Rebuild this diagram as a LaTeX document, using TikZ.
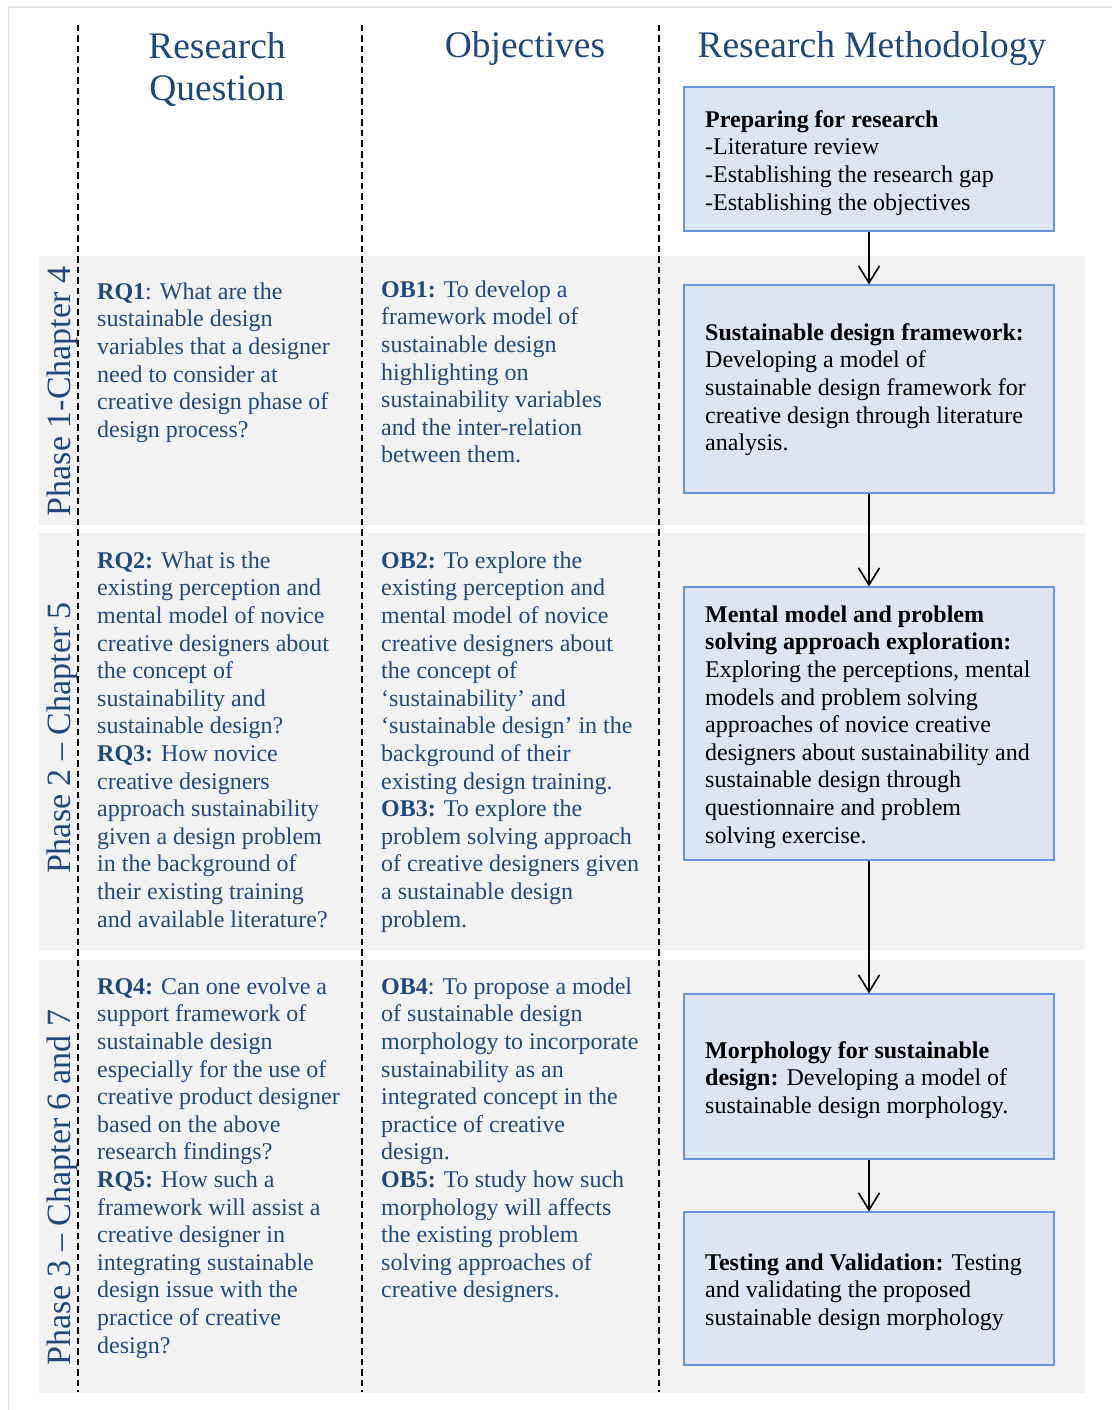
\documentclass[tikz,border=0pt]{standalone}
\usepackage{fontspec}
\setmainfont{Liberation Serif}
\usetikzlibrary{arrows.meta}
\definecolor{hdrblue}{RGB}{31,73,125}
\definecolor{bandgray}{RGB}{242,242,242}
\definecolor{boxfill}{RGB}{220,230,242}
\definecolor{boxline}{RGB}{100,150,222}
\definecolor{framegray}{RGB}{226,226,226}

\begin{document}
\begin{tikzpicture}[x=1pt,y=-1pt,
  divider/.style={draw=black, line width=2pt, dash pattern=on 6.5pt off 4pt},
  methbox/.style={draw=boxline, fill=boxfill, line width=1.2pt, rectangle,
    minimum width=370pt, inner sep=0pt},
  body/.style={anchor=north west, inner sep=0pt, align=left,
    font=\fontsize{24}{27.6}\selectfont},
  coltext/.style={body, text=hdrblue},
  boxtext/.style={body, text=black},
  heading/.style={text=hdrblue, inner sep=0pt, align=center,
    font=\fontsize{37.5}{42}\selectfont},
  phase/.style={text=hdrblue, inner sep=0pt, rotate=90, anchor=base,
    font=\fontsize{34}{40}\selectfont},
  flow/.style={-{Straight Barb[length=17pt,width=21pt]}, line width=1.6pt, draw=black}
]
\useasboundingbox (0,0) rectangle (1111,1410);
\fill[white] (0,0) rectangle (1111,1410);

% outer frame
\draw[framegray, line width=1.5pt] (8.5,1420) -- (8.5,7) -- (1120,7);

% phase bands
\fill[bandgray] (39,256) rectangle (1085,524.5);
\fill[bandgray] (39,533) rectangle (1085,950);
\fill[bandgray] (39,960) rectangle (1085,1392.5);

% column dividers
\draw[divider] (78,25) -- (78,1392);
\draw[divider] (362,25) -- (362,1392);
\draw[divider] (659,25) -- (659,1392);

% column headings
\node[heading, anchor=north] (hrq) at (217,28.6) {\strut Research\\Question};
\node[heading, anchor=base] (hob) at (525,58) {Objectives};
\node[heading, anchor=base] (hrm) at (872,58) {Research Methodology};

% phase labels
\node[phase] (p1) at (70.5,391.5) {Phase 1-Chapter 4};
\node[phase] (p2) at (70.5,738) {Phase 2 – Chapter 5};
\node[phase] (p3) at (70.5,1187.5) {Phase 3 – Chapter 6 and 7};

% methodology boxes
\node[methbox, minimum height=144pt] (m1) at (869,159) {};
\node[methbox, minimum height=208pt] (m2) at (869,389) {};
\node[methbox, minimum height=273pt] (m3) at (869,723.5) {};
\node[methbox, minimum height=165pt] (m4) at (869,1076.5) {};
\node[methbox, minimum height=153pt] (m5) at (869,1288.5) {};

\draw[flow] (m1) -- (m2);
\draw[flow] (m2) -- (m3);
\draw[flow] (m3) -- (m4);
\draw[flow] (m4) -- (m5);

% methodology texts
\node[boxtext] (t1) at (705,107.7) {\strut\textbf{Preparing for research}\\
-Literature review\\
-Establishing the research gap\\
-Establishing the objectives};
\node[boxtext] (t2) at (705,320.7) {\strut\textbf{Sustainable design framework:}\\
Developing a model of\\
sustainable design framework for\\
creative design through literature\\
analysis.};
\node[boxtext] (t3) at (705,602.7) {\strut\textbf{Mental model and problem}\\
\textbf{solving approach exploration:}\\
Exploring the perceptions, mental\\
models and problem solving\\
approaches of novice creative\\
designers about sustainability and\\
sustainable design through\\
questionnaire and problem\\
solving exercise.};
\node[boxtext] (t4) at (705,1038.7) {\strut\textbf{Morphology for sustainable}\\
\textbf{design:} Developing a model of\\
sustainable design morphology.};
\node[boxtext] (t5) at (705,1250.7) {\strut\textbf{Testing and Validation:} Testing\\
and validating the proposed\\
sustainable design morphology};

% research questions
\node[coltext] (rq1) at (97,279.7) {\strut\textbf{RQ1}: What are the\\
sustainable design\\
variables that a designer\\
need to consider at\\
creative design phase of\\
design process?};
\node[coltext] (rq2) at (97,548.7) {\strut\textbf{RQ2:} What is the\\
existing perception and\\
mental model of novice\\
creative designers about\\
the concept of\\
sustainability and\\
sustainable design?\\
\textbf{RQ3:} How novice\\
creative designers\\
approach sustainability\\
given a design problem\\
in the background of\\
their existing training\\
and available literature?};
\node[coltext] (rq4) at (97,974.7) {\strut\textbf{RQ4:} Can one evolve a\\
support framework of\\
sustainable design\\
especially for the use of\\
creative product designer\\
based on the above\\
research findings?\\
\textbf{RQ5:} How such a\\
framework will assist a\\
creative designer in\\
integrating sustainable\\
design issue with the\\
practice of creative\\
design?};

% objectives
\node[coltext] (ob1) at (381,277.7) {\strut\textbf{OB1:} To develop a\\
framework model of\\
sustainable design\\
highlighting on\\
sustainability variables\\
and the inter-relation\\
between them.};
\node[coltext] (ob2) at (381,548.7) {\strut\textbf{OB2:} To explore the\\
existing perception and\\
mental model of novice\\
creative designers about\\
the concept of\\
‘sustainability’ and\\
‘sustainable design’ in the\\
background of their\\
existing design training.\\
\textbf{OB3:} To explore the\\
problem solving approach\\
of creative designers given\\
a sustainable design\\
problem.};
\node[coltext] (ob4) at (381,974.7) {\strut\textbf{OB4}: To propose a model\\
of sustainable design\\
morphology to incorporate\\
sustainability as an\\
integrated concept in the\\
practice of creative\\
design.\\
\textbf{OB5:} To study how such\\
morphology will affects\\
the existing problem\\
solving approaches of\\
creative designers.};
\end{tikzpicture}
\end{document}
